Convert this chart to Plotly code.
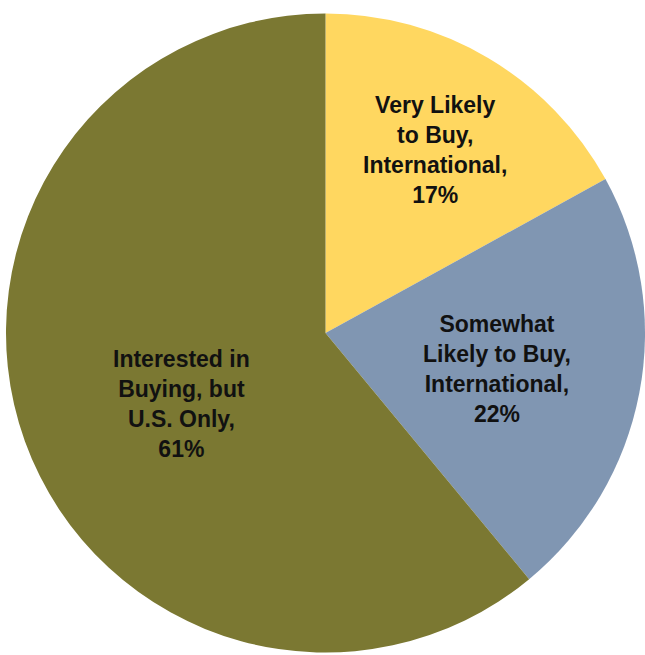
import plotly.graph_objects as go

labels = ["Very Likely<br>to Buy,<br>International", "Somewhat<br>Likely to Buy,<br>International", "Interested in<br>Buying, but<br>U.S. Only"]
values = [17, 22, 61]
colors = ["#FFD760", "#8096B2", "#7B7832"]
label_pos = [(0.674, 0.771), (0.771, 0.437), (0.282, 0.383)]

fig = go.Figure(go.Pie(
    labels=labels, values=values, sort=False, direction="clockwise", rotation=0,
    marker=dict(colors=colors, line=dict(width=0)),
    textinfo="none", hoverinfo="label+percent",
    domain=dict(x=[6/645, 1], y=[0, 644/655]),
))
for lab, v, (x, y) in zip(labels, values, label_pos):
    fig.add_annotation(x=x, y=y, xref="paper", yref="paper", showarrow=False,
                       xanchor="center", yanchor="middle",
                       text=f"<b>{lab},<br>{v}%</b>", align="center",
                       font=dict(family="Liberation Sans, Arial, sans-serif", size=23, color="#111111"))
fig.update_layout(width=645, height=655, margin=dict(l=0, r=0, t=0, b=0),
                  showlegend=False, paper_bgcolor="white")
fig.write_html("out.html")
